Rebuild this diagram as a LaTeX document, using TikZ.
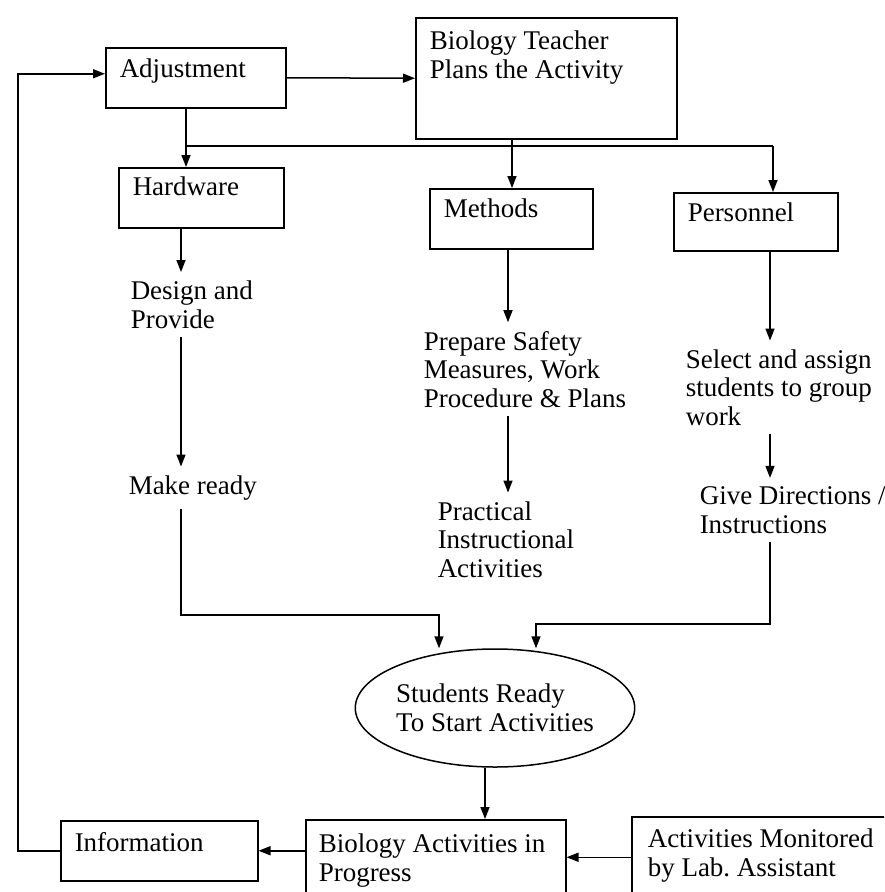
\documentclass[tikz,border=0pt]{standalone}
\usepackage{fontspec}
\setmainfont{Liberation Serif}
\usetikzlibrary{arrows.meta,shapes.geometric}
\begin{document}
\frenchspacing
\begin{tikzpicture}[x=1pt, y=-1pt, line width=1.5pt,
  every node/.style={font=\fontsize{27}{28.5}\selectfont},
  box/.style={draw, rectangle, anchor=north west, align=flush left, inner xsep=14pt, inner ysep=0pt},
  txt/.style={anchor=base west, align=flush left, inner xsep=0pt, inner ysep=8pt},
  flow/.style={-{Triangle[length=12pt,width=9pt]}}]
  \useasboundingbox (0,0) rectangle (884,892);
  \clip (0,0) rectangle (884,892);
  % boxes
  \node[box, text width=152pt, text height=30pt, text depth=30pt] (adj) at (105,47) {Adjustment};
  \node[box, text width=233pt, text height=32pt, text depth=89pt] (bt) at (415,17) {Biology Teacher\\Plans the Activity};
  \node[box, text width=137pt, text height=28pt, text depth=32pt] (hw) at (118,167) {Hardware};
  \node[box, text width=135pt, text height=29pt, text depth=31pt] (meth) at (429,188) {Methods};
  \node[box, text width=136pt, text height=29pt, text depth=29pt] (per) at (673,192) {Personnel};
  \node[box, text width=169pt, text height=31pt, text depth=29pt] (info) at (60,820) {Information};
  \node[box, inner xsep=13pt, text width=234pt, text height=33pt, text depth=50pt] (ba) at (305,819) {Biology Activities in\\Progress};
  \node[box, inner xsep=16pt, text width=240pt, text height=31pt, text depth=50pt] (am) at (631,816) {Activities Monitored\\by Lab. Assistant};
  % plain texts (base = last line)
  \node[txt] (dp) at (130,328) {Design and\\Provide};
  \node[txt] (mr) at (128,494) {Make ready};
  \node[txt] (ps) at (423,407) {Prepare Safety\\Measures, Work\\Procedure \& Plans};
  \node[txt] (pi) at (437,577) {Practical\\Instructional\\Activities};
  \node[txt] (sa) at (685,425) {Select and assign\\students to group\\work};
  \node[txt] (gd) at (699,533) {Give Directions /\\Instructions};
  \node[draw, ellipse, align=flush left, minimum width=278pt, minimum height=118pt, inner sep=0pt] (sr) at (495,708) {Students Ready\\To Start Activities};
  % columns and joints
  \coordinate (c1) at (181,0);
  \coordinate (c2) at (508,0);
  \coordinate (c3) at (770,0);
  \coordinate (jL) at (186,146);
  \coordinate (jM) at (512,146);
  \coordinate (jR) at (773,146);
  \coordinate (kL) at (439,615);
  \coordinate (kR) at (536,624);
  \coordinate (fb) at (18,0);
  % connectors
  \draw[flow] (adj.east) -- (bt.west);
  \draw (jL |- adj.south) -- (jL) -- (jR);
  \draw[flow] (jL) -- (jL |- hw.north);
  \draw[flow] (jM |- bt.south) -- (jM |- meth.north);
  \draw[flow] (jR) -- (jR |- per.north);
  \draw[flow] (c1 |- hw.south) -- (c1 |- dp.north);
  \draw[flow] (c1 |- dp.south) -- (c1 |- mr.north);
  \draw[flow] (c2 |- meth.south) -- (c2 |- ps.north);
  \draw[flow] (c2 |- ps.south) -- (c2 |- pi.north);
  \draw[flow] (c3 |- per.south) -- (c3 |- sa.north);
  \draw[flow] (c3 |- sa.south) -- (c3 |- gd.north);
  \draw[flow] (c1 |- mr.south) |- (kL) -- (kL |- sr.north);
  \draw[flow] (c3 |- gd.south) |- (kR) -- (kR |- sr.north);
  \draw[flow] ([xshift=-10pt]sr.south) -- ([xshift=-10pt]sr.south |- ba.north);
  \draw[flow] (ba.west |- info.east) -- (info.east);
  \draw[flow] (am.west) -- (am.west -| ba.east);
  \draw[flow] (info.west) -- (info.west -| fb) |- ([yshift=4pt]adj.west);
\end{tikzpicture}
\end{document}
